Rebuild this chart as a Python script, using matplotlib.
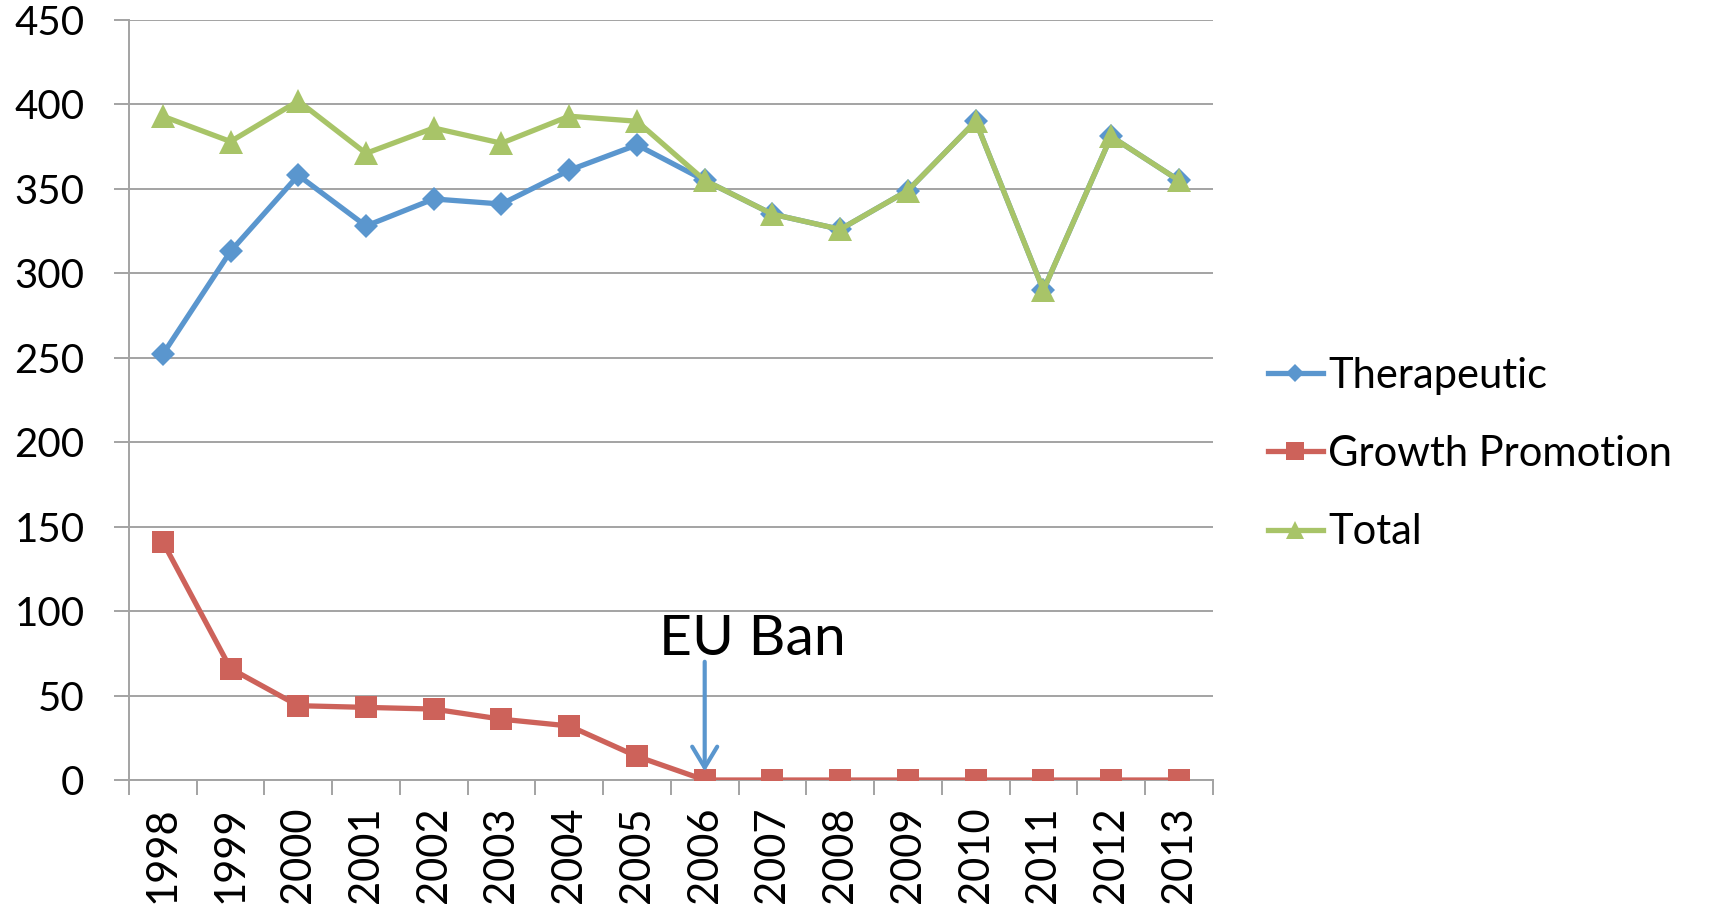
import matplotlib
matplotlib.use("Agg")
import matplotlib.pyplot as plt
import numpy as np

# Data
years = ["1998", "1999", "2000", "2001", "2002", "2003", "2004", "2005",
         "2006", "2007", "2008", "2009", "2010", "2011", "2012", "2013"]
therapeutic = [252, 313, 358, 328, 344, 341, 361, 376,
               355, 335, 326, 349, 390, 290, 381, 355]
growth_promotion = [141, 66, 44, 43, 42, 36, 32, 14,
                    0, 0, 0, 0, 0, 0, 0, 0]
total = [393, 378, 402, 371, 386, 377, 393, 390,
         355, 335, 326, 349, 390, 290, 381, 355]
y_ticks = [0, 50, 100, 150, 200, 250, 300, 350, 400, 450]
ban_year = "2006"
ban_label = "EU Ban"

plt.rcParams['font.family'] = ['Lato', 'DejaVu Sans']

BLUE = "#5A96CE"
RED = "#CD625A"
GREEN = "#A8C468"
GRID = "#A3A3A3"

fig = plt.figure(figsize=(17.1, 9.09), dpi=100)
ax = fig.add_axes([0.0754, 0.1419, 0.6338, 0.8362])

x = np.arange(len(years))

ax.plot(x, therapeutic, color=BLUE, lw=3.8, marker="D", ms=12,
        mec=BLUE, mew=0, label="Therapeutic", zorder=3,
        solid_joinstyle="round")
ax.plot(x, growth_promotion, color=RED, lw=3.8, marker="s", ms=16,
        mec=RED, mew=0, label="Growth Promotion", zorder=3,
        solid_joinstyle="round")
ax.plot(x, total, color=GREEN, lw=3.8, marker="^", ms=17,
        mec=GREEN, mew=0, label="Total", zorder=4,
        solid_joinstyle="round")

# Axes limits and grid
ax.set_xlim(-0.5, len(years) - 0.5)
ax.set_ylim(0, 450)
ax.set_yticks(y_ticks)
ax.yaxis.grid(True, color=GRID, lw=1.4)
ax.set_axisbelow(True)

for side in ("top", "right"):
    ax.spines[side].set_visible(False)
for side in ("left", "bottom"):
    ax.spines[side].set_color(GRID)
    ax.spines[side].set_linewidth(1.4)

ax.tick_params(axis="y", direction="out", length=11, width=1.4,
               color=GRID, labelsize=29, pad=21)

# Category boundaries carry the tick marks; labels sit at centres
ax.set_xticks(np.arange(-0.5, len(years)), labels=[])
ax.set_xticks(x, labels=years, minor=True, rotation=90)
ax.tick_params(axis="x", which="major", direction="out", length=11,
               width=1.4, color=GRID)
ax.tick_params(axis="x", which="minor", length=0, labelsize=30, pad=19)

# Ban annotation
bx = years.index(ban_year)
ax.text(bx + 0.7, 74, ban_label, fontsize=41, ha="center", va="baseline",
        zorder=6)
ax.annotate("", xy=(bx, 5), xytext=(bx, 70),
            arrowprops=dict(arrowstyle="->,head_length=0.5,head_width=0.3",
                            color=BLUE, lw=3, mutation_scale=30,
                            shrinkA=0, shrinkB=0),
            zorder=6)

leg = fig.legend(loc="center left", bbox_to_anchor=(0.7415, 0.5006),
                 frameon=False, fontsize=30, numpoints=1,
                 handlelength=1.32, handletextpad=0.12, labelspacing=0.97,
                 borderpad=0, borderaxespad=0)
for h in leg.legend_handles:
    if h.get_marker() == "D":
        h.set_markersize(9)
    else:
        h.set_markersize(13)

fig.savefig("out.png", dpi=100)
